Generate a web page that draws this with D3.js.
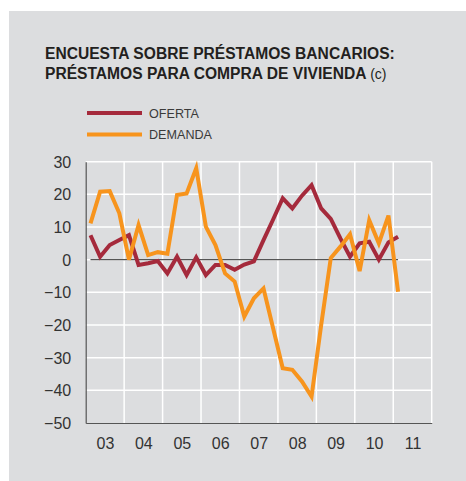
<!DOCTYPE html>
<html><head><meta charset="utf-8">
<script src="https://cdn.jsdelivr.net/npm/d3@7"></script>
<style>html,body{margin:0;padding:0;background:#fff;}svg{display:block;}</style>
</head><body>
<script>
const years = ["03","04","05","06","07","08","09","10","11"];
const quarters = ["2003Q1","2003Q2","2003Q3","2003Q4","2004Q1","2004Q2","2004Q3","2004Q4","2005Q1","2005Q2","2005Q3","2005Q4","2006Q1","2006Q2","2006Q3","2006Q4","2007Q1","2007Q2","2007Q3","2007Q4","2008Q1","2008Q2","2008Q3","2008Q4","2009Q1","2009Q2","2009Q3","2009Q4","2010Q1","2010Q2","2010Q3","2010Q4","2011Q1"];
const oferta = [7.5,0.9,4.5,6,7.5,-1.6,-1.1,-0.4,-4.2,0.9,-4.7,0.7,-4.7,-1.6,-1.6,-3.1,-1.5,-0.5,6,12.3,18.8,15.7,19.6,22.8,15.7,12.5,6.5,0.9,5,5.5,0,5.3,7];
const demanda = [11.1,20.8,21,14.2,0,10.6,1.4,2.3,1.8,19.8,20.3,28,10.1,4.5,-4.2,-6.7,-17.4,-11.8,-8.8,-21,-33.2,-33.7,-37.3,-41.9,-20,0.5,4,7.8,-3.5,12.1,5,13.5,-9.8];
const yTicks = [30,20,10,0,-10,-20,-30,-40,-50];
const seriesNames = ["OFERTA","DEMANDA"];
const colors = ["#a52a3c","#f7941d"];

const W = 466, H = 481;
const svg = d3.select("body").append("svg").attr("width", W).attr("height", H);
svg.append("rect").attr("x", 9).attr("y", 11).attr("width", W - 9).attr("height", H - 11).attr("fill", "#dcdddf");

const font = "'Liberation Sans', Arial, sans-serif";
const title = svg.append("g").attr("font-family", font).attr("fill", "#231f20");
title.append("text").attr("x", 45).attr("y", 58.5).attr("font-size", 15.6).attr("font-weight", "bold")
  .text("ENCUESTA SOBRE PRÉSTAMOS BANCARIOS:");
const t2 = title.append("text").attr("x", 45).attr("y", 79).attr("font-size", 15.6);
t2.append("tspan").attr("font-weight", "bold").text("PRÉSTAMOS PARA COMPRA DE VIVIENDA ");
t2.append("tspan").attr("font-size", 14).attr("font-weight", "normal").text("(c)");

// legend
seriesNames.forEach((n, i) => {
  const yy = 113 + i * 21.5;
  svg.append("line").attr("x1", 87).attr("x2", 142).attr("y1", yy).attr("y2", yy)
    .attr("stroke", colors[i]).attr("stroke-width", 4);
  svg.append("text").attr("x", 149).attr("y", yy + 4.5).attr("font-family", font).attr("font-size", 12.6)
    .attr("fill", "#3a3a3a").text(n);
});

const pLeft = 85.7, pRight = 431.7, pTop = 161.7, pBottom = 423;
const x = d3.scaleLinear().domain([2003, 2012]).range([pLeft, pRight]);
const y = d3.scaleLinear().domain([-50, 30]).range([pBottom, pTop]);
const qx = (q) => { const yr = +q.slice(0,4), k = +q.slice(5); return x(yr + (k - 0.5) / 4); };

// grid
const g = svg.append("g");
g.selectAll("line.h").data(yTicks.filter(d => d > -50)).join("line")
  .attr("x1", pLeft).attr("x2", pRight).attr("y1", d => y(d)).attr("y2", d => y(d))
  .attr("stroke", "#fff").attr("stroke-width", 1.5);
g.selectAll("line.v").data(d3.range(2004, 2013)).join("line")
  .attr("x1", d => x(d)).attr("x2", d => x(d)).attr("y1", pTop).attr("y2", pBottom)
  .attr("stroke", "#fff").attr("stroke-width", 1.5);

// axes
const yAxis = d3.axisLeft(y).tickValues(yTicks).tickSize(0).tickPadding(14.5).tickFormat(d3.format("d"));
const ya = svg.append("g").attr("transform", `translate(${pLeft},0)`).call(yAxis);
ya.select(".domain").attr("stroke", "#555").attr("stroke-width", 1.2);
ya.selectAll("text").attr("font-family", font).attr("font-size", 16).attr("fill", "#333").attr("dy", "0.35em");

const xAxis = d3.axisBottom(x).tickValues(d3.range(2003, 2012).map(d => d + 0.5)).tickSize(0).tickPadding(14.5)
  .tickFormat((d, i) => years[i]);
const xa = svg.append("g").attr("transform", `translate(0,${pBottom})`).call(xAxis);
xa.select(".domain").attr("stroke", "#555").attr("stroke-width", 1.2);
xa.selectAll("text").attr("font-family", font).attr("font-size", 16).attr("fill", "#333");

// zero line
svg.append("line").attr("x1", qx(quarters[0])).attr("x2", qx(quarters[quarters.length-1]))
  .attr("y1", y(0)).attr("y2", y(0)).attr("stroke", "#555").attr("stroke-width", 1.2);

const line = d3.line().x((d, i) => qx(quarters[i])).y(d => y(d));
[oferta, demanda].forEach((s, i) => {
  svg.append("path").datum(s).attr("d", line).attr("fill", "none")
    .attr("stroke", colors[i]).attr("stroke-width", 4).attr("stroke-linejoin", "miter");
});
</script>
</body></html>
